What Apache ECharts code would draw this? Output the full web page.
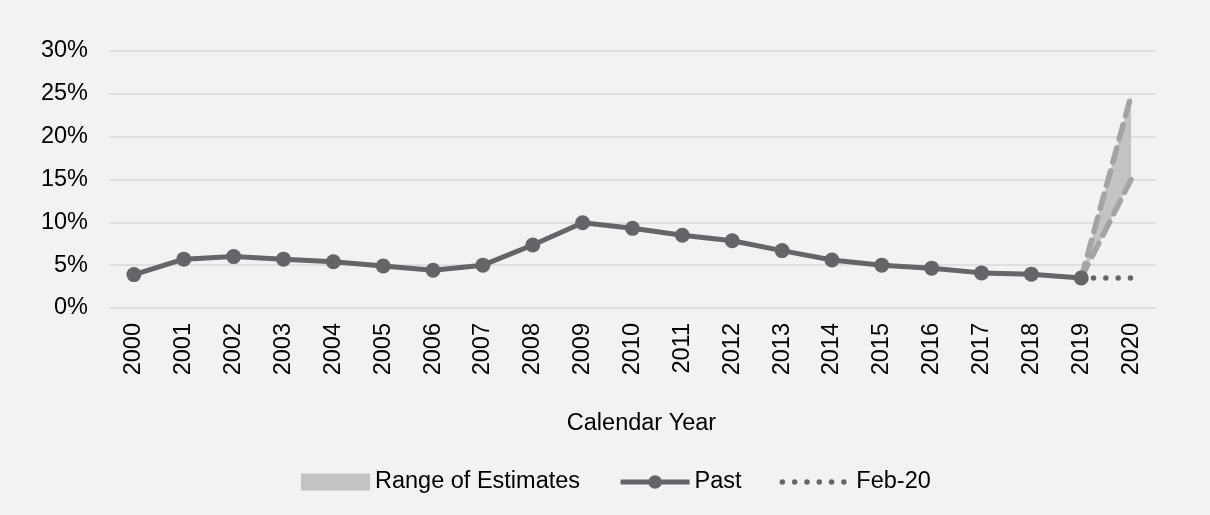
<!DOCTYPE html>
<html>
<head>
<meta charset="utf-8">
<script src="https://cdn.jsdelivr.net/npm/echarts@6/dist/echarts.min.js"></script>
<style>
  html, body { margin: 0; padding: 0; background: #f2f2f2; }
  #chart { width: 1210px; height: 515px; }
</style>
</head>
<body>
<div id="chart"></div>
<script>
// data
var years = ['2000','2001','2002','2003','2004','2005','2006','2007','2008','2009','2010',
             '2011','2012','2013','2014','2015','2016','2017','2018','2019','2020'];
var past = [3.9, 5.7, 6.0, 5.7, 5.4, 4.9, 4.4, 5.0, 7.35, 9.95, 9.3,
            8.5, 7.85, 6.7, 5.6, 5.0, 4.65, 4.1, 3.95, 3.5, null];
var feb20 = [null,null,null,null,null,null,null,null,null,null,null,
             null,null,null,null,null,null,null,null, 3.5, 3.5];
var rangeLow = [null,null,null,null,null,null,null,null,null,null,null,
                null,null,null,null,null,null,null,null, 3.5, 15.0];
var rangeHigh = [null,null,null,null,null,null,null,null,null,null,null,
                 null,null,null,null,null,null,null,null, 3.5, 24.8];
var yTicks = [0, 5, 10, 15, 20, 25, 30];

var band = rangeHigh.map(function (v, i) {
  return v == null ? null : +(v - rangeLow[i]).toFixed(2);
});

var font = 'Liberation Sans, Arial, sans-serif';
var dots = [0.01, 12.3];
var chart = echarts.init(document.getElementById('chart'));
chart.setOption({
  backgroundColor: '#f2f2f2',
  animation: false,
  textStyle: { fontFamily: font },
  grid: { left: 109, right: 54, top: 51, bottom: 207 },
  legend: {
    left: 296,
    top: 465,
    itemWidth: 69,
    itemHeight: 17,
    itemGap: 38,
    textStyle: { fontSize: 23.5, color: '#000', fontFamily: font },
    data: [
      { name: 'Range of Estimates', icon: 'rect', itemStyle: { color: '#c3c3c4', borderWidth: 0 } },
      { name: 'Past', lineStyle: { width: 5, color: '#636569' } },
      { name: 'Feb-20', itemStyle: { color: 'rgba(0,0,0,0)', borderWidth: 0, opacity: 0 },
        lineStyle: { width: 5.5, color: '#636569', type: dots, cap: 'round' } }
    ]
  },
  xAxis: {
    type: 'category',
    data: years,
    boundaryGap: true,
    axisLine: { show: false },
    axisTick: { show: false },
    axisLabel: { rotate: 90, margin: 15, fontSize: 23.5, color: '#000', interval: 0 },
    name: 'Calendar Year',
    nameLocation: 'middle',
    nameGap: 104,
    nameTextStyle: { fontSize: 23.5, color: '#000', padding: [0, 0, 0, 18] }
  },
  yAxis: {
    type: 'value',
    min: yTicks[0],
    max: yTicks[yTicks.length - 1],
    interval: 5,
    axisLine: { show: false },
    axisTick: { show: false },
    axisLabel: { formatter: '{value}%', fontSize: 23.5, color: '#000', margin: 21 },
    splitLine: { lineStyle: { color: '#d9d9d9', width: 1.5 } }
  },
  series: [
    {
      name: 'rangeBase',
      type: 'line',
      stack: 'range',
      data: rangeLow,
      symbol: 'none',
      lineStyle: { opacity: 0 },
      silent: true
    },
    {
      name: 'Range of Estimates',
      type: 'line',
      stack: 'range',
      data: band,
      symbol: 'none',
      lineStyle: { opacity: 0, width: 0 },
      itemStyle: { color: '#c3c3c4' },
      areaStyle: { color: '#c3c3c4', opacity: 1 }
    },
    {
      name: 'rangeLowLine',
      type: 'line',
      data: rangeLow,
      symbol: 'none',
      lineStyle: { color: '#a3a4a7', width: 5.5, type: [15, 9], cap: 'round' }
    },
    {
      name: 'rangeHighLine',
      type: 'line',
      data: rangeHigh,
      symbol: 'none',
      lineStyle: { color: '#a3a4a7', width: 5.5, type: [15, 9], cap: 'round' }
    },
    {
      name: 'Feb-20',
      type: 'line',
      data: feb20,
      symbol: 'none',
      itemStyle: { color: '#636569' },
      lineStyle: { color: '#636569', width: 5.5, type: dots, cap: 'round' },
      z: 3
    },
    {
      name: 'Past',
      type: 'line',
      data: past,
      symbol: 'circle',
      symbolSize: 15,
      itemStyle: { color: '#636569' },
      lineStyle: { color: '#636569', width: 5 },
      z: 4
    }
  ]
});
</script>
</body>
</html>
